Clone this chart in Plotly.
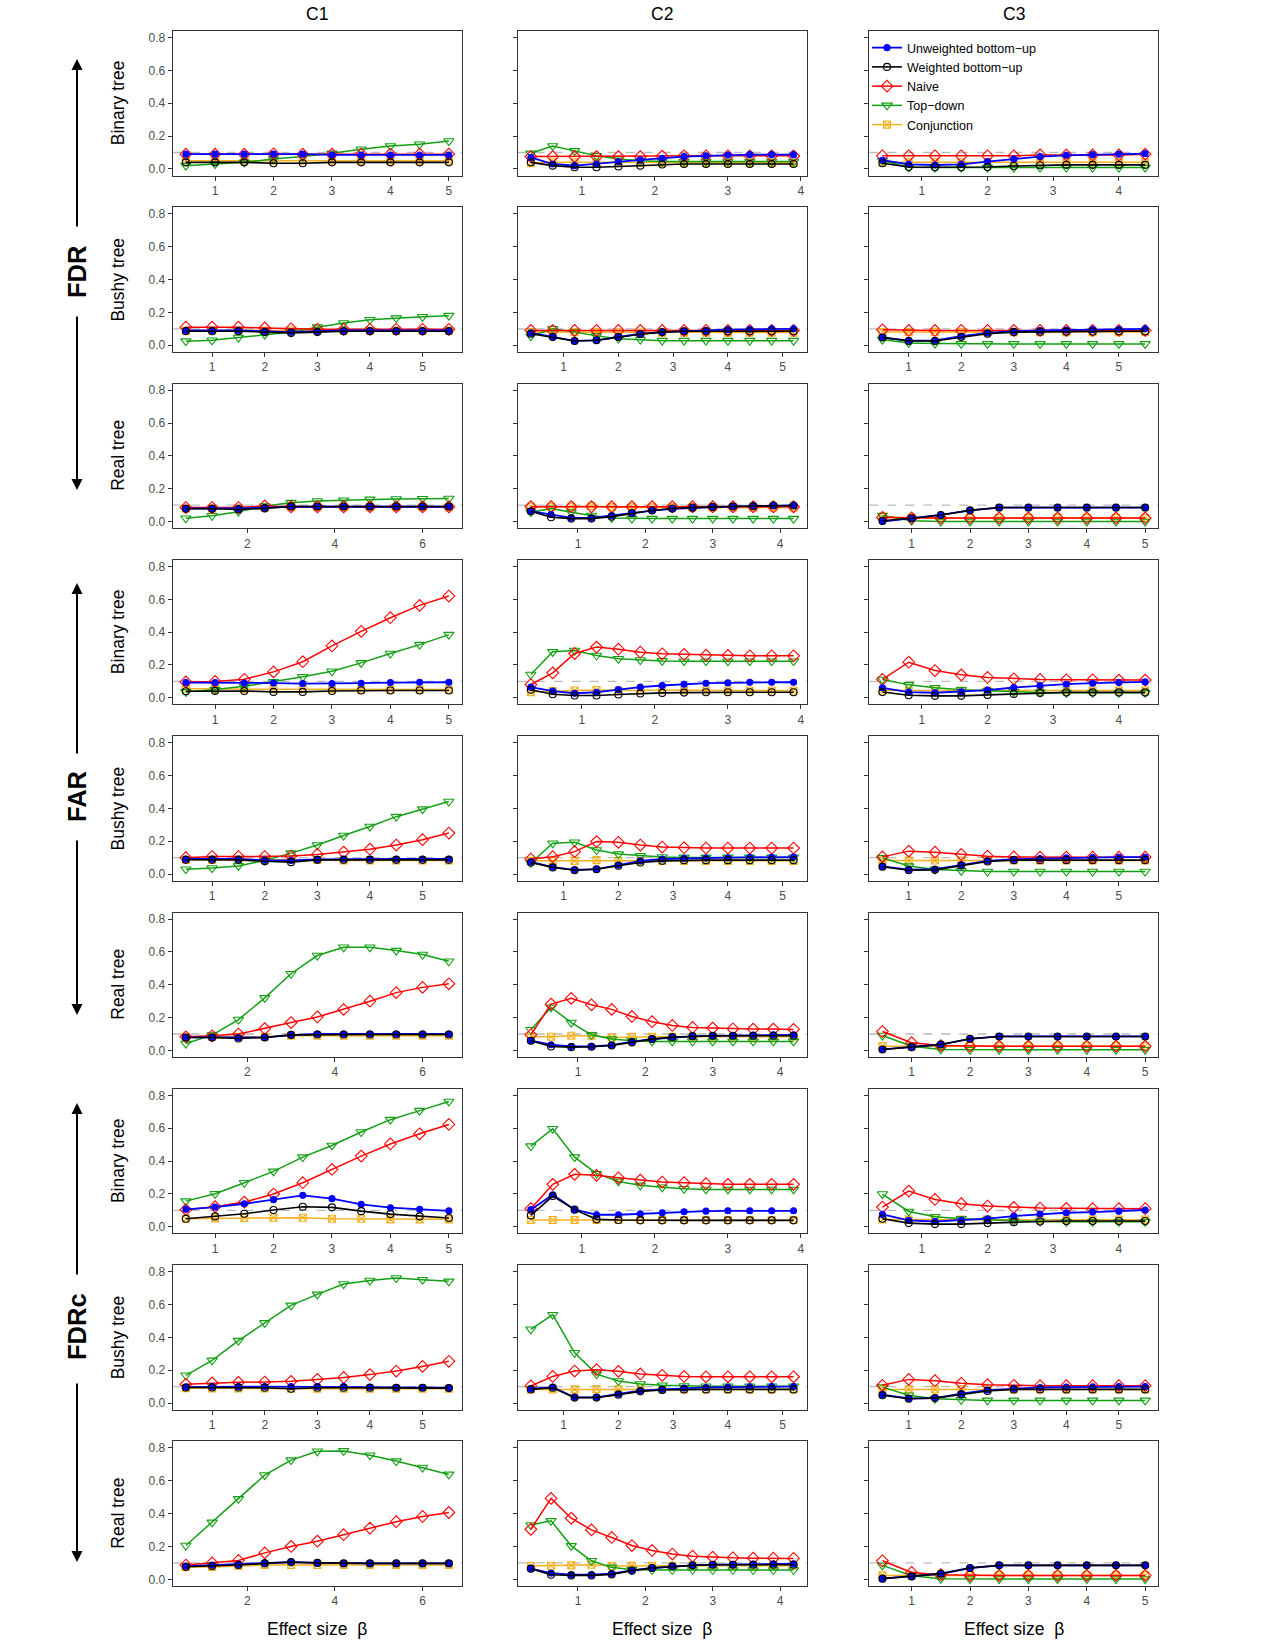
import plotly.graph_objects as go

# ---------------- x values (effect size beta) ----------------
X_C1_BIN = [0.5, 1.0, 1.5, 2.0, 2.5, 3.0, 3.5, 4.0, 4.5, 5.0]
X_C1_BUS = [0.5, 1.0, 1.5, 2.0, 2.5, 3.0, 3.5, 4.0, 4.5, 5.0, 5.5]
X_C1_REA = [0.6, 1.2, 1.8, 2.4, 3.0, 3.6, 4.2, 4.8, 5.4, 6.0, 6.6]
X_C2_BIN = [0.3, 0.6, 0.9, 1.2, 1.5, 1.8, 2.1, 2.4, 2.7, 3.0, 3.3, 3.6, 3.9]
X_C2_BUS = [0.4, 0.8, 1.2, 1.6, 2.0, 2.4, 2.8, 3.2, 3.6, 4.0, 4.4, 4.8, 5.2]
X_C2_REA = [0.3, 0.6, 0.9, 1.2, 1.5, 1.8, 2.1, 2.4, 2.7, 3.0, 3.3, 3.6, 3.9, 4.2]
X_C3_BIN = [0.4, 0.8, 1.2, 1.6, 2.0, 2.4, 2.8, 3.2, 3.6, 4.0, 4.4]
X_C3_BUS = [0.5, 1.0, 1.5, 2.0, 2.5, 3.0, 3.5, 4.0, 4.5, 5.0, 5.5]
X_C3_REA = [0.5, 1.0, 1.5, 2.0, 2.5, 3.0, 3.5, 4.0, 4.5, 5.0]

# ---------------- FDR ----------------
FDR_BIN_C1_UBU = [0.09, 0.09, 0.09, 0.09, 0.09, 0.085, 0.085, 0.085, 0.085, 0.085]
FDR_BIN_C1_WBU = [0.04, 0.04, 0.04, 0.035, 0.035, 0.04, 0.04, 0.04, 0.04, 0.04]
FDR_BIN_C1_NAI = [0.09, 0.09, 0.09, 0.092, 0.09, 0.09, 0.09, 0.09, 0.09, 0.09]
FDR_BIN_C1_TD = [0.02, 0.03, 0.04, 0.06, 0.075, 0.095, 0.12, 0.14, 0.15, 0.17]
FDR_BIN_C1_CON = [0.05, 0.05, 0.05, 0.05, 0.05, 0.05, 0.05, 0.05, 0.05, 0.05]

FDR_BIN_C2_UBU = [0.07, 0.03, 0.02, 0.03, 0.043, 0.055, 0.065, 0.075, 0.08, 0.085, 0.087, 0.087, 0.087]
FDR_BIN_C2_WBU = [0.04, 0.02, 0.01, 0.01, 0.015, 0.02, 0.027, 0.03, 0.03, 0.03, 0.03, 0.03, 0.03]
FDR_BIN_C2_NAI = [0.075, 0.075, 0.075, 0.075, 0.075, 0.075, 0.078, 0.08, 0.08, 0.08, 0.08, 0.08, 0.08]
FDR_BIN_C2_TD = [0.095, 0.14, 0.11, 0.08, 0.06, 0.05, 0.045, 0.045, 0.045, 0.045, 0.045, 0.045, 0.045]
FDR_BIN_C2_CON = [0.035, 0.04, 0.04, 0.04, 0.04, 0.037, 0.037, 0.037, 0.037, 0.037, 0.037, 0.037, 0.037]

FDR_BIN_C3_UBU = [0.053, 0.028, 0.024, 0.028, 0.045, 0.06, 0.075, 0.083, 0.087, 0.09, 0.093]
FDR_BIN_C3_WBU = [0.035, 0.012, 0.01, 0.01, 0.012, 0.018, 0.022, 0.025, 0.025, 0.025, 0.025]
FDR_BIN_C3_NAI = [0.08, 0.08, 0.08, 0.08, 0.08, 0.08, 0.085, 0.085, 0.085, 0.085, 0.09]
FDR_BIN_C3_TD = [0.05, 0.01, 0.008, 0.008, 0.008, 0.008, 0.008, 0.008, 0.008, 0.008, 0.008]
FDR_BIN_C3_CON = [0.04, 0.04, 0.04, 0.04, 0.04, 0.04, 0.04, 0.04, 0.04, 0.04, 0.04]

FDR_BUS_C1_UBU = [0.09, 0.09, 0.09, 0.085, 0.08, 0.085, 0.09, 0.09, 0.09, 0.09, 0.09]
FDR_BUS_C1_WBU = [0.085, 0.085, 0.085, 0.08, 0.075, 0.08, 0.085, 0.085, 0.085, 0.085, 0.085]
FDR_BUS_C1_NAI = [0.11, 0.11, 0.11, 0.105, 0.1, 0.097, 0.097, 0.097, 0.097, 0.097, 0.097]
FDR_BUS_C1_TD = [0.025, 0.03, 0.047, 0.065, 0.08, 0.11, 0.135, 0.155, 0.165, 0.173, 0.18]
FDR_BUS_C1_CON = [0.09, 0.09, 0.09, 0.09, 0.09, 0.09, 0.09, 0.09, 0.09, 0.09, 0.09]

FDR_BUS_C2_UBU = [0.075, 0.05, 0.026, 0.03, 0.05, 0.07, 0.08, 0.087, 0.09, 0.095, 0.097, 0.1, 0.1]
FDR_BUS_C2_WBU = [0.07, 0.05, 0.026, 0.03, 0.05, 0.067, 0.08, 0.085, 0.085, 0.085, 0.085, 0.085, 0.085]
FDR_BUS_C2_NAI = [0.09, 0.09, 0.09, 0.09, 0.09, 0.09, 0.09, 0.09, 0.09, 0.09, 0.09, 0.09, 0.09]
FDR_BUS_C2_TD = [0.055, 0.1, 0.08, 0.057, 0.04, 0.035, 0.028, 0.028, 0.028, 0.028, 0.028, 0.028, 0.028]
FDR_BUS_C2_CON = [0.08, 0.08, 0.08, 0.08, 0.078, 0.077, 0.077, 0.077, 0.077, 0.077, 0.077, 0.077, 0.077]

FDR_BUS_C3_UBU = [0.047, 0.028, 0.03, 0.055, 0.075, 0.085, 0.09, 0.092, 0.095, 0.097, 0.1]
FDR_BUS_C3_WBU = [0.047, 0.026, 0.026, 0.05, 0.07, 0.08, 0.082, 0.083, 0.084, 0.085, 0.085]
FDR_BUS_C3_NAI = [0.094, 0.09, 0.09, 0.09, 0.09, 0.09, 0.09, 0.09, 0.09, 0.09, 0.09]
FDR_BUS_C3_TD = [0.035, 0.014, 0.01, 0.008, 0.008, 0.008, 0.008, 0.008, 0.008, 0.008, 0.008]
FDR_BUS_C3_CON = [0.08, 0.08, 0.08, 0.08, 0.08, 0.08, 0.08, 0.08, 0.08, 0.08, 0.08]

FDR_REA_C1_UBU = [0.08, 0.08, 0.08, 0.085, 0.09, 0.09, 0.09, 0.09, 0.09, 0.09, 0.09]
FDR_REA_C1_WBU = [0.078, 0.078, 0.073, 0.08, 0.092, 0.092, 0.092, 0.092, 0.092, 0.092, 0.092]
FDR_REA_C1_NAI = [0.085, 0.085, 0.085, 0.095, 0.09, 0.09, 0.09, 0.09, 0.09, 0.09, 0.09]
FDR_REA_C1_TD = [0.02, 0.035, 0.06, 0.095, 0.115, 0.125, 0.13, 0.135, 0.137, 0.139, 0.14]
FDR_REA_C1_CON = [0.08, 0.08, 0.08, 0.085, 0.088, 0.088, 0.088, 0.088, 0.088, 0.088, 0.088]

FDR_REA_C2_UBU = [0.063, 0.043, 0.022, 0.022, 0.037, 0.053, 0.067, 0.077, 0.083, 0.088, 0.092, 0.094, 0.098, 0.098]
FDR_REA_C2_WBU = [0.063, 0.026, 0.018, 0.018, 0.03, 0.05, 0.067, 0.079, 0.085, 0.089, 0.092, 0.094, 0.098, 0.098]
FDR_REA_C2_NAI = [0.09, 0.09, 0.09, 0.09, 0.09, 0.09, 0.09, 0.09, 0.09, 0.09, 0.09, 0.09, 0.09, 0.09]
FDR_REA_C2_TD = [0.057, 0.08, 0.057, 0.037, 0.022, 0.018, 0.018, 0.018, 0.018, 0.018, 0.018, 0.018, 0.018, 0.018]
FDR_REA_C2_CON = [0.09, 0.09, 0.09, 0.095, 0.088, 0.086, 0.086, 0.086, 0.086, 0.086, 0.086, 0.086, 0.086, 0.086]

FDR_REA_C3_UBU = [0.0, 0.02, 0.04, 0.068, 0.085, 0.085, 0.085, 0.085, 0.085, 0.085]
FDR_REA_C3_WBU = [0.005, 0.02, 0.04, 0.068, 0.085, 0.085, 0.085, 0.085, 0.085, 0.085]
FDR_REA_C3_NAI = [0.025, 0.022, 0.022, 0.022, 0.022, 0.022, 0.022, 0.022, 0.022, 0.022]
FDR_REA_C3_TD = [0.037, 0.005, 0.0, 0.0, 0.0, 0.0, 0.0, 0.0, 0.0, 0.0]
FDR_REA_C3_CON = [0.03, 0.022, 0.022, 0.022, 0.022, 0.022, 0.022, 0.022, 0.022, 0.022]

# ---------------- FAR ----------------
FAR_BIN_C1_UBU = [0.093, 0.093, 0.09, 0.09, 0.087, 0.087, 0.089, 0.093, 0.095, 0.095]
FAR_BIN_C1_WBU = [0.04, 0.042, 0.042, 0.036, 0.036, 0.042, 0.045, 0.045, 0.045, 0.045]
FAR_BIN_C1_NAI = [0.097, 0.1, 0.113, 0.158, 0.22, 0.316, 0.405, 0.488, 0.563, 0.62]
FAR_BIN_C1_TD = [0.036, 0.05, 0.07, 0.097, 0.128, 0.162, 0.213, 0.27, 0.324, 0.385]
FAR_BIN_C1_CON = [0.057, 0.053, 0.053, 0.053, 0.053, 0.053, 0.05, 0.05, 0.05, 0.05]

FAR_BIN_C2_UBU = [0.065, 0.041, 0.028, 0.034, 0.05, 0.065, 0.075, 0.083, 0.089, 0.091, 0.095, 0.095, 0.095]
FAR_BIN_C2_WBU = [0.049, 0.022, 0.014, 0.014, 0.02, 0.026, 0.03, 0.032, 0.034, 0.034, 0.034, 0.034, 0.034]
FAR_BIN_C2_NAI = [0.081, 0.152, 0.27, 0.309, 0.296, 0.278, 0.268, 0.264, 0.26, 0.258, 0.256, 0.256, 0.256]
FAR_BIN_C2_TD = [0.142, 0.28, 0.288, 0.258, 0.238, 0.23, 0.225, 0.223, 0.223, 0.223, 0.223, 0.223, 0.223]
FAR_BIN_C2_CON = [0.035, 0.041, 0.045, 0.047, 0.045, 0.045, 0.047, 0.045, 0.045, 0.045, 0.045, 0.045, 0.045]

FAR_BIN_C3_UBU = [0.061, 0.035, 0.031, 0.037, 0.047, 0.063, 0.075, 0.083, 0.089, 0.093, 0.097]
FAR_BIN_C3_WBU = [0.035, 0.016, 0.012, 0.012, 0.018, 0.024, 0.03, 0.033, 0.033, 0.033, 0.033]
FAR_BIN_C3_NAI = [0.112, 0.217, 0.166, 0.14, 0.124, 0.116, 0.112, 0.11, 0.11, 0.108, 0.108]
FAR_BIN_C3_TD = [0.112, 0.079, 0.061, 0.049, 0.043, 0.037, 0.033, 0.031, 0.031, 0.031, 0.031]
FAR_BIN_C3_CON = [0.045, 0.045, 0.045, 0.045, 0.045, 0.045, 0.045, 0.045, 0.045, 0.045, 0.045]

FAR_BUS_C1_UBU = [0.092, 0.092, 0.092, 0.085, 0.083, 0.09, 0.092, 0.092, 0.092, 0.092, 0.092]
FAR_BUS_C1_WBU = [0.088, 0.087, 0.087, 0.078, 0.073, 0.087, 0.087, 0.087, 0.087, 0.087, 0.087]
FAR_BUS_C1_NAI = [0.1, 0.107, 0.107, 0.107, 0.11, 0.12, 0.134, 0.152, 0.177, 0.21, 0.25]
FAR_BUS_C1_TD = [0.03, 0.037, 0.05, 0.083, 0.128, 0.177, 0.235, 0.29, 0.35, 0.396, 0.442]
FAR_BUS_C1_CON = [0.088, 0.088, 0.088, 0.088, 0.088, 0.086, 0.083, 0.083, 0.083, 0.083, 0.083]

FAR_BUS_C2_UBU = [0.075, 0.043, 0.026, 0.03, 0.055, 0.081, 0.092, 0.096, 0.098, 0.1, 0.102, 0.102, 0.104]
FAR_BUS_C2_WBU = [0.071, 0.041, 0.024, 0.03, 0.051, 0.071, 0.081, 0.085, 0.085, 0.085, 0.085, 0.085, 0.085]
FAR_BUS_C2_NAI = [0.092, 0.106, 0.137, 0.198, 0.194, 0.177, 0.165, 0.161, 0.159, 0.159, 0.159, 0.159, 0.159]
FAR_BUS_C2_TD = [0.068, 0.188, 0.194, 0.147, 0.122, 0.112, 0.104, 0.102, 0.102, 0.102, 0.102, 0.102, 0.102]
FAR_BUS_C2_CON = [0.081, 0.081, 0.081, 0.085, 0.081, 0.081, 0.081, 0.081, 0.081, 0.081, 0.081, 0.081, 0.081]

FAR_BUS_C3_UBU = [0.047, 0.028, 0.03, 0.057, 0.081, 0.091, 0.095, 0.099, 0.101, 0.103, 0.103]
FAR_BUS_C3_WBU = [0.045, 0.024, 0.026, 0.053, 0.077, 0.085, 0.085, 0.085, 0.085, 0.085, 0.085]
FAR_BUS_C3_NAI = [0.105, 0.14, 0.134, 0.12, 0.109, 0.105, 0.103, 0.103, 0.103, 0.103, 0.103]
FAR_BUS_C3_TD = [0.099, 0.049, 0.028, 0.02, 0.016, 0.016, 0.016, 0.016, 0.016, 0.016, 0.016]
FAR_BUS_C3_CON = [0.083, 0.083, 0.083, 0.083, 0.083, 0.083, 0.083, 0.083, 0.083, 0.083, 0.083]

FAR_REA_C1_UBU = [0.079, 0.079, 0.077, 0.079, 0.093, 0.1, 0.1, 0.1, 0.1, 0.1, 0.1]
FAR_REA_C1_WBU = [0.079, 0.079, 0.073, 0.079, 0.095, 0.097, 0.097, 0.097, 0.097, 0.097, 0.097]
FAR_REA_C1_NAI = [0.083, 0.089, 0.1, 0.133, 0.17, 0.204, 0.25, 0.3, 0.352, 0.384, 0.406]
FAR_REA_C1_TD = [0.042, 0.093, 0.188, 0.32, 0.467, 0.578, 0.628, 0.628, 0.608, 0.584, 0.543]
FAR_REA_C1_CON = [0.083, 0.083, 0.083, 0.083, 0.089, 0.089, 0.089, 0.089, 0.089, 0.089, 0.089]

FAR_REA_C2_UBU = [0.059, 0.035, 0.024, 0.024, 0.032, 0.053, 0.069, 0.079, 0.085, 0.089, 0.091, 0.093, 0.095, 0.095]
FAR_REA_C2_WBU = [0.059, 0.024, 0.02, 0.022, 0.03, 0.049, 0.069, 0.081, 0.087, 0.089, 0.089, 0.089, 0.089, 0.089]
FAR_REA_C2_NAI = [0.095, 0.282, 0.317, 0.278, 0.25, 0.207, 0.175, 0.152, 0.14, 0.136, 0.132, 0.13, 0.13, 0.128]
FAR_REA_C2_TD = [0.126, 0.262, 0.17, 0.095, 0.069, 0.059, 0.055, 0.055, 0.055, 0.055, 0.055, 0.055, 0.055, 0.055]
FAR_REA_C2_CON = [0.083, 0.083, 0.089, 0.089, 0.079, 0.083, 0.083, 0.083, 0.083, 0.083, 0.083, 0.083, 0.083, 0.083]

FAR_REA_C3_UBU = [0.006, 0.02, 0.036, 0.071, 0.085, 0.085, 0.085, 0.085, 0.085, 0.085]
FAR_REA_C3_WBU = [0.006, 0.02, 0.036, 0.071, 0.085, 0.085, 0.085, 0.085, 0.085, 0.085]
FAR_REA_C3_NAI = [0.115, 0.047, 0.03, 0.026, 0.026, 0.026, 0.026, 0.026, 0.026, 0.026]
FAR_REA_C3_TD = [0.091, 0.026, 0.006, 0.004, 0.004, 0.004, 0.004, 0.004, 0.004, 0.004]
FAR_REA_C3_CON = [0.026, 0.026, 0.026, 0.026, 0.026, 0.026, 0.026, 0.026, 0.026, 0.026]

# ---------------- FDRc ----------------
FDRC_BIN_C1_UBU = [0.106, 0.12, 0.14, 0.165, 0.191, 0.171, 0.136, 0.116, 0.106, 0.097]
FDRC_BIN_C1_WBU = [0.049, 0.063, 0.079, 0.102, 0.122, 0.118, 0.095, 0.077, 0.063, 0.053]
FDRC_BIN_C1_NAI = [0.104, 0.122, 0.15, 0.199, 0.268, 0.349, 0.43, 0.504, 0.566, 0.623]
FDRC_BIN_C1_TD = [0.156, 0.201, 0.268, 0.337, 0.424, 0.495, 0.577, 0.652, 0.707, 0.763]
FDRC_BIN_C1_CON = [0.049, 0.051, 0.053, 0.055, 0.055, 0.049, 0.049, 0.045, 0.045, 0.045]

FDRC_BIN_C2_UBU = [0.104, 0.195, 0.104, 0.073, 0.073, 0.079, 0.085, 0.091, 0.095, 0.097, 0.097, 0.097, 0.097]
FDRC_BIN_C2_WBU = [0.069, 0.187, 0.104, 0.045, 0.041, 0.039, 0.039, 0.039, 0.039, 0.039, 0.039, 0.039, 0.039]
FDRC_BIN_C2_NAI = [0.11, 0.258, 0.319, 0.313, 0.298, 0.284, 0.272, 0.268, 0.262, 0.258, 0.258, 0.258, 0.258]
FDRC_BIN_C2_TD = [0.491, 0.597, 0.424, 0.323, 0.276, 0.252, 0.24, 0.231, 0.227, 0.227, 0.227, 0.227, 0.227]
FDRC_BIN_C2_CON = [0.041, 0.041, 0.041, 0.041, 0.041, 0.041, 0.041, 0.041, 0.041, 0.041, 0.041, 0.041, 0.041]

FDRC_BIN_C3_UBU = [0.075, 0.039, 0.032, 0.039, 0.049, 0.065, 0.077, 0.085, 0.089, 0.095, 0.102]
FDRC_BIN_C3_WBU = [0.049, 0.022, 0.016, 0.016, 0.022, 0.028, 0.032, 0.035, 0.035, 0.035, 0.035]
FDRC_BIN_C3_NAI = [0.12, 0.217, 0.166, 0.14, 0.126, 0.118, 0.114, 0.112, 0.11, 0.11, 0.11]
FDRC_BIN_C3_TD = [0.199, 0.093, 0.061, 0.049, 0.043, 0.037, 0.032, 0.03, 0.03, 0.03, 0.03]
FDRC_BIN_C3_CON = [0.045, 0.043, 0.043, 0.043, 0.043, 0.043, 0.043, 0.043, 0.043, 0.043, 0.043]

FDRC_BUS_C1_UBU = [0.097, 0.1, 0.1, 0.1, 0.1, 0.1, 0.1, 0.097, 0.095, 0.095, 0.093]
FDRC_BUS_C1_WBU = [0.095, 0.095, 0.095, 0.093, 0.087, 0.093, 0.093, 0.093, 0.093, 0.093, 0.091]
FDRC_BUS_C1_NAI = [0.114, 0.122, 0.126, 0.128, 0.132, 0.144, 0.156, 0.173, 0.195, 0.223, 0.254]
FDRC_BUS_C1_TD = [0.169, 0.26, 0.38, 0.488, 0.595, 0.662, 0.725, 0.746, 0.761, 0.751, 0.741]
FDRC_BUS_C1_CON = [0.091, 0.089, 0.089, 0.089, 0.087, 0.087, 0.087, 0.087, 0.087, 0.087, 0.087]

FDRC_BUS_C2_UBU = [0.087, 0.097, 0.035, 0.035, 0.055, 0.075, 0.083, 0.091, 0.095, 0.097, 0.099, 0.1, 0.1]
FDRC_BUS_C2_WBU = [0.083, 0.093, 0.033, 0.033, 0.051, 0.071, 0.079, 0.083, 0.083, 0.083, 0.083, 0.083, 0.083]
FDRC_BUS_C2_NAI = [0.104, 0.162, 0.195, 0.203, 0.193, 0.177, 0.169, 0.162, 0.16, 0.16, 0.16, 0.16, 0.16]
FDRC_BUS_C2_TD = [0.449, 0.538, 0.306, 0.176, 0.134, 0.116, 0.108, 0.104, 0.102, 0.102, 0.102, 0.102, 0.102]
FDRC_BUS_C2_CON = [0.083, 0.083, 0.083, 0.085, 0.083, 0.083, 0.083, 0.083, 0.083, 0.083, 0.083, 0.083, 0.083]

FDRC_BUS_C3_UBU = [0.051, 0.028, 0.03, 0.057, 0.079, 0.089, 0.095, 0.097, 0.099, 0.1, 0.1]
FDRC_BUS_C3_WBU = [0.047, 0.026, 0.03, 0.051, 0.073, 0.083, 0.083, 0.083, 0.083, 0.083, 0.083]
FDRC_BUS_C3_NAI = [0.108, 0.144, 0.136, 0.12, 0.112, 0.108, 0.106, 0.106, 0.106, 0.106, 0.106]
FDRC_BUS_C3_TD = [0.097, 0.047, 0.026, 0.02, 0.016, 0.016, 0.016, 0.016, 0.016, 0.016, 0.016]
FDRC_BUS_C3_CON = [0.083, 0.083, 0.083, 0.083, 0.083, 0.083, 0.083, 0.083, 0.083, 0.083, 0.083]

FDRC_REA_C1_UBU = [0.081, 0.087, 0.091, 0.1, 0.105, 0.1, 0.097, 0.097, 0.097, 0.097, 0.097]
FDRC_REA_C1_WBU = [0.077, 0.081, 0.087, 0.097, 0.105, 0.1, 0.097, 0.097, 0.097, 0.097, 0.097]
FDRC_REA_C1_NAI = [0.087, 0.1, 0.115, 0.161, 0.2, 0.232, 0.272, 0.312, 0.351, 0.383, 0.407]
FDRC_REA_C1_TD = [0.206, 0.347, 0.49, 0.635, 0.726, 0.78, 0.782, 0.756, 0.72, 0.681, 0.639]
FDRC_REA_C1_CON = [0.075, 0.075, 0.081, 0.087, 0.087, 0.087, 0.087, 0.087, 0.087, 0.087, 0.087]

FDRC_REA_C2_UBU = [0.065, 0.038, 0.028, 0.028, 0.034, 0.055, 0.069, 0.079, 0.085, 0.089, 0.091, 0.093, 0.095, 0.095]
FDRC_REA_C2_WBU = [0.065, 0.028, 0.024, 0.024, 0.03, 0.053, 0.069, 0.079, 0.085, 0.089, 0.089, 0.089, 0.089, 0.089]
FDRC_REA_C2_NAI = [0.305, 0.493, 0.372, 0.301, 0.255, 0.206, 0.176, 0.154, 0.141, 0.135, 0.131, 0.129, 0.129, 0.127]
FDRC_REA_C2_TD = [0.331, 0.356, 0.204, 0.113, 0.073, 0.059, 0.057, 0.057, 0.057, 0.057, 0.057, 0.057, 0.057, 0.057]
FDRC_REA_C2_CON = [0.081, 0.083, 0.085, 0.089, 0.081, 0.083, 0.083, 0.083, 0.083, 0.083, 0.083, 0.083, 0.083, 0.083]

FDRC_REA_C3_UBU = [0.004, 0.018, 0.034, 0.069, 0.085, 0.085, 0.085, 0.085, 0.085, 0.085]
FDRC_REA_C3_WBU = [0.004, 0.018, 0.034, 0.069, 0.085, 0.085, 0.085, 0.085, 0.085, 0.085]
FDRC_REA_C3_NAI = [0.113, 0.042, 0.028, 0.024, 0.024, 0.024, 0.024, 0.024, 0.024, 0.024]
FDRC_REA_C3_TD = [0.085, 0.022, 0.004, 0.002, 0.002, 0.002, 0.002, 0.002, 0.002, 0.002]
FDRC_REA_C3_CON = [0.024, 0.024, 0.024, 0.024, 0.024, 0.024, 0.024, 0.024, 0.024, 0.024]

COL_TITLES = ["C1", "C2", "C3"]
ROW_TITLES = ["Binary tree", "Bushy tree", "Real tree"]
GROUP_TITLES = ["FDR", "FAR", "FDRc"]
METHODS = ["Unweighted bottom\u2212up", "Weighted bottom\u2212up", "Naive", "Top\u2212down", "Conjunction"]
Y_TICKS = [0.0, 0.2, 0.4, 0.6, 0.8]
Y_TICKTEXT = ["0.0", "0.2", "0.4", "0.6", "0.8"]
NOMINAL_LEVEL = 0.1

# panel table: (row, col, x, [ubu, wbu, naive, topdown, conj], dtick)
PANELS = [
    (1, 1, X_C1_BIN, [FDR_BIN_C1_UBU, FDR_BIN_C1_WBU, FDR_BIN_C1_NAI, FDR_BIN_C1_TD, FDR_BIN_C1_CON], 1),
    (1, 2, X_C2_BIN, [FDR_BIN_C2_UBU, FDR_BIN_C2_WBU, FDR_BIN_C2_NAI, FDR_BIN_C2_TD, FDR_BIN_C2_CON], 1),
    (1, 3, X_C3_BIN, [FDR_BIN_C3_UBU, FDR_BIN_C3_WBU, FDR_BIN_C3_NAI, FDR_BIN_C3_TD, FDR_BIN_C3_CON], 1),
    (2, 1, X_C1_BUS, [FDR_BUS_C1_UBU, FDR_BUS_C1_WBU, FDR_BUS_C1_NAI, FDR_BUS_C1_TD, FDR_BUS_C1_CON], 1),
    (2, 2, X_C2_BUS, [FDR_BUS_C2_UBU, FDR_BUS_C2_WBU, FDR_BUS_C2_NAI, FDR_BUS_C2_TD, FDR_BUS_C2_CON], 1),
    (2, 3, X_C3_BUS, [FDR_BUS_C3_UBU, FDR_BUS_C3_WBU, FDR_BUS_C3_NAI, FDR_BUS_C3_TD, FDR_BUS_C3_CON], 1),
    (3, 1, X_C1_REA, [FDR_REA_C1_UBU, FDR_REA_C1_WBU, FDR_REA_C1_NAI, FDR_REA_C1_TD, FDR_REA_C1_CON], 2),
    (3, 2, X_C2_REA, [FDR_REA_C2_UBU, FDR_REA_C2_WBU, FDR_REA_C2_NAI, FDR_REA_C2_TD, FDR_REA_C2_CON], 1),
    (3, 3, X_C3_REA, [FDR_REA_C3_UBU, FDR_REA_C3_WBU, FDR_REA_C3_NAI, FDR_REA_C3_TD, FDR_REA_C3_CON], 1),
    (4, 1, X_C1_BIN, [FAR_BIN_C1_UBU, FAR_BIN_C1_WBU, FAR_BIN_C1_NAI, FAR_BIN_C1_TD, FAR_BIN_C1_CON], 1),
    (4, 2, X_C2_BIN, [FAR_BIN_C2_UBU, FAR_BIN_C2_WBU, FAR_BIN_C2_NAI, FAR_BIN_C2_TD, FAR_BIN_C2_CON], 1),
    (4, 3, X_C3_BIN, [FAR_BIN_C3_UBU, FAR_BIN_C3_WBU, FAR_BIN_C3_NAI, FAR_BIN_C3_TD, FAR_BIN_C3_CON], 1),
    (5, 1, X_C1_BUS, [FAR_BUS_C1_UBU, FAR_BUS_C1_WBU, FAR_BUS_C1_NAI, FAR_BUS_C1_TD, FAR_BUS_C1_CON], 1),
    (5, 2, X_C2_BUS, [FAR_BUS_C2_UBU, FAR_BUS_C2_WBU, FAR_BUS_C2_NAI, FAR_BUS_C2_TD, FAR_BUS_C2_CON], 1),
    (5, 3, X_C3_BUS, [FAR_BUS_C3_UBU, FAR_BUS_C3_WBU, FAR_BUS_C3_NAI, FAR_BUS_C3_TD, FAR_BUS_C3_CON], 1),
    (6, 1, X_C1_REA, [FAR_REA_C1_UBU, FAR_REA_C1_WBU, FAR_REA_C1_NAI, FAR_REA_C1_TD, FAR_REA_C1_CON], 2),
    (6, 2, X_C2_REA, [FAR_REA_C2_UBU, FAR_REA_C2_WBU, FAR_REA_C2_NAI, FAR_REA_C2_TD, FAR_REA_C2_CON], 1),
    (6, 3, X_C3_REA, [FAR_REA_C3_UBU, FAR_REA_C3_WBU, FAR_REA_C3_NAI, FAR_REA_C3_TD, FAR_REA_C3_CON], 1),
    (7, 1, X_C1_BIN, [FDRC_BIN_C1_UBU, FDRC_BIN_C1_WBU, FDRC_BIN_C1_NAI, FDRC_BIN_C1_TD, FDRC_BIN_C1_CON], 1),
    (7, 2, X_C2_BIN, [FDRC_BIN_C2_UBU, FDRC_BIN_C2_WBU, FDRC_BIN_C2_NAI, FDRC_BIN_C2_TD, FDRC_BIN_C2_CON], 1),
    (7, 3, X_C3_BIN, [FDRC_BIN_C3_UBU, FDRC_BIN_C3_WBU, FDRC_BIN_C3_NAI, FDRC_BIN_C3_TD, FDRC_BIN_C3_CON], 1),
    (8, 1, X_C1_BUS, [FDRC_BUS_C1_UBU, FDRC_BUS_C1_WBU, FDRC_BUS_C1_NAI, FDRC_BUS_C1_TD, FDRC_BUS_C1_CON], 1),
    (8, 2, X_C2_BUS, [FDRC_BUS_C2_UBU, FDRC_BUS_C2_WBU, FDRC_BUS_C2_NAI, FDRC_BUS_C2_TD, FDRC_BUS_C2_CON], 1),
    (8, 3, X_C3_BUS, [FDRC_BUS_C3_UBU, FDRC_BUS_C3_WBU, FDRC_BUS_C3_NAI, FDRC_BUS_C3_TD, FDRC_BUS_C3_CON], 1),
    (9, 1, X_C1_REA, [FDRC_REA_C1_UBU, FDRC_REA_C1_WBU, FDRC_REA_C1_NAI, FDRC_REA_C1_TD, FDRC_REA_C1_CON], 2),
    (9, 2, X_C2_REA, [FDRC_REA_C2_UBU, FDRC_REA_C2_WBU, FDRC_REA_C2_NAI, FDRC_REA_C2_TD, FDRC_REA_C2_CON], 1),
    (9, 3, X_C3_REA, [FDRC_REA_C3_UBU, FDRC_REA_C3_WBU, FDRC_REA_C3_NAI, FDRC_REA_C3_TD, FDRC_REA_C3_CON], 1),
]

# ---------------- styling ----------------
W, H = 1275, 1650
FONT = "Liberation Sans, Arial, Helvetica, sans-serif"
COLORS = ["#0000FF", "#000000", "#FF0000", "#12A012", "#F5B020"]
SYMBOLS = ["circle", "circle-open", "diamond-open", "triangle-down-open", "square-x-open"]
MSIZES = [6, 7, 9, 9, 7]
LWIDTH = [1.8, 1.6, 1.5, 1.5, 1.5]
DRAW_ORDER = [4, 3, 2, 0, 1]  # conj, top-down, naive, unweighted, weighted on top

COL_X = [(172.7, 462.0), (517.7, 806.7), (869.3, 1158.3)]
ROW_TOP0, ROW_STEP, ROW_H = 31.0, 176.3, 144.5


def px_x(p):
    return p / W


def px_y(p):
    return 1 - p / H


fig = go.Figure()
layout = dict(shapes=[], annotations=[])

for (r, c, xs, series, dt) in PANELS:
    n = (r - 1) * 3 + c
    xa = "x" if n == 1 else f"x{n}"
    ya = "y" if n == 1 else f"y{n}"
    top = ROW_TOP0 + (r - 1) * ROW_STEP
    bot = top + ROW_H
    x0, x1 = COL_X[c - 1]
    span = max(xs) - min(xs)
    layout["xaxis" if n == 1 else f"xaxis{n}"] = dict(
        domain=[px_x(x0), px_x(x1)], anchor=ya,
        range=[min(xs) - 0.05 * span, max(xs) + 0.05 * span],
        tick0=0, dtick=dt, ticks="outside", ticklen=4, tickwidth=1, tickcolor="#333333",
        showline=True, mirror=True, linecolor="#333333", linewidth=1,
        showgrid=False, zeroline=False,
        tickfont=dict(size=12, color="#4D4D4D", family=FONT),
    )
    layout["yaxis" if n == 1 else f"yaxis{n}"] = dict(
        domain=[px_y(bot), px_y(top)], anchor=xa,
        range=[-0.04, 0.84], tickvals=Y_TICKS, ticktext=Y_TICKTEXT,
        showticklabels=(c == 1),
        ticks="outside", ticklen=4, tickwidth=1, tickcolor="#333333",
        showline=True, mirror=True, linecolor="#333333", linewidth=1,
        showgrid=False, zeroline=False,
        tickfont=dict(size=12, color="#4D4D4D", family=FONT),
    )
    layout["shapes"].append(dict(
        type="line", xref=f"{xa} domain", yref=ya, x0=0, x1=1,
        y0=NOMINAL_LEVEL, y1=NOMINAL_LEVEL, layer="below",
        line=dict(color="#BBBBBB", width=1.3, dash="dash"),
    ))
    for k in DRAW_ORDER:
        fig.add_trace(go.Scatter(
            x=xs, y=series[k], mode="lines+markers", xaxis=xa, yaxis=ya,
            name=METHODS[k], legendgroup=METHODS[k], legendrank=k + 1,
            showlegend=(n == 1),
            line=dict(color=COLORS[k], width=LWIDTH[k]),
            marker=dict(symbol=SYMBOLS[k], size=MSIZES[k], color=COLORS[k],
                        line=dict(color=COLORS[k], width=1.1)),
        ))

# column titles and x-axis titles
for c in range(3):
    x0, x1 = COL_X[c]
    layout["annotations"].append(dict(
        text=COL_TITLES[c], xref="paper", yref="paper", x=px_x((x0 + x1) / 2), y=px_y(14),
        showarrow=False, font=dict(size=17.5, color="black", family=FONT), xanchor="center", yanchor="middle"))
    layout["annotations"].append(dict(
        text="Effect size  \u03b2", xref="paper", yref="paper", x=px_x((x0 + x1) / 2), y=px_y(1629),
        showarrow=False, font=dict(size=17.5, color="black", family=FONT), xanchor="center", yanchor="middle"))

# row titles
for r in range(9):
    top = ROW_TOP0 + r * ROW_STEP
    layout["annotations"].append(dict(
        text=ROW_TITLES[r % 3], xref="paper", yref="paper", x=px_x(118), y=px_y(top + ROW_H / 2),
        showarrow=False, textangle=-90, font=dict(size=17.5, color="black", family=FONT),
        xanchor="center", yanchor="middle"))

# group titles with arrows: (label centre, top tip, upper line end, lower line start, bottom tip)
GROUP_GEOM = [(272, 59, 228, 315, 490), (797, 583, 755, 839, 1015), (1327, 1103, 1276, 1382, 1562)]
ARROW_X = 77
for g, (cy, tip_top, up_end, lo_start, tip_bot) in enumerate(GROUP_GEOM):
    layout["annotations"].append(dict(
        text=f"<b>{GROUP_TITLES[g]}</b>", xref="paper", yref="paper", x=px_x(ARROW_X), y=px_y(cy),
        showarrow=False, textangle=-90, font=dict(size=25.5, color="black", family=FONT),
        xanchor="center", yanchor="middle"))
    for (tip, tail) in [(tip_top, up_end), (tip_bot, lo_start)]:
        layout["annotations"].append(dict(
            text="", xref="paper", yref="paper", axref="pixel", ayref="pixel",
            x=px_x(ARROW_X), y=px_y(tip), ax=0, ay=tail - tip,
            showarrow=True, arrowhead=2, arrowsize=1.1, arrowwidth=2, arrowcolor="black", standoff=0))

fig.update_layout(
    width=W, height=H, autosize=False,
    margin=dict(l=0, r=0, t=0, b=0),
    paper_bgcolor="white", plot_bgcolor="white",
    font=dict(family=FONT, color="black"),
    showlegend=True,
    legend=dict(x=px_x(867), y=px_y(33), xanchor="left", yanchor="top",
                bgcolor="rgba(0,0,0,0)", font=dict(size=12.5, color="black", family=FONT),
                tracegroupgap=0, itemwidth=30),
    **layout,
)

fig.write_html("out.html")
